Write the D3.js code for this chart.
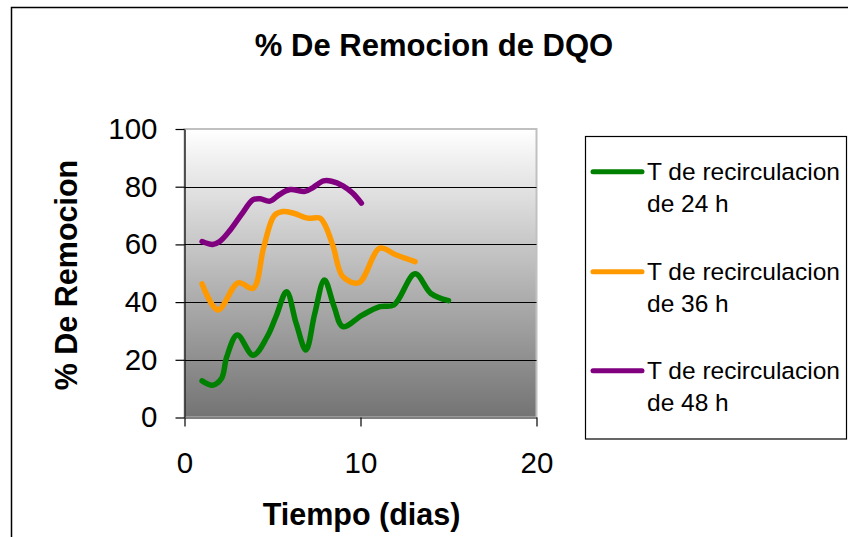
<!DOCTYPE html>
<html>
<head>
<meta charset="utf-8">
<script src="https://cdn.jsdelivr.net/npm/d3@7"></script>
<style>
  html, body { margin: 0; padding: 0; background: #fff; }
  svg { display: block; font-family: "Liberation Sans", Arial, sans-serif; }
</style>
</head>
<body>
<svg id="chart" width="848" height="537"></svg>
<script>
// Series: day of operation and % COD removal for each recirculation time
const dias24 = [1, 1.6, 2.1, 2.4, 3.0, 3.9, 4.7, 5.2, 5.8, 6.35, 6.9, 7.4, 7.95, 8.5, 9.0, 10.1, 11.1, 11.9, 13.1, 14.0, 15.0];
const remocion24 = [12.7, 11.2, 13.5, 21, 28.6, 21.6, 28, 35, 43.6, 32.5, 23.4, 36, 47.7, 38.4, 31.5, 35.5, 38.4, 39, 49.8, 43, 40.5];

const dias36 = [1, 1.9, 3.05, 3.9, 4.5, 5.1, 5.6, 6.2, 7.0, 7.7, 8.0, 8.45, 9.0, 9.9, 11.1, 12.0, 13.1];
const remocion36 = [46.3, 37.3, 46.7, 44.8, 59, 70, 71.4, 70.8, 69.1, 69.1, 66.5, 59.2, 48.8, 46.7, 58.7, 56.4, 54];

const dias48 = [1, 1.6, 2.0, 2.6, 3.25, 3.9, 4.3, 4.85, 5.4, 6.0, 6.85, 7.3, 7.9, 8.35, 9.0, 9.55, 10.05];
const remocion48 = [61, 60, 61, 65, 70.5, 75.5, 75.8, 75, 77.3, 79, 78.4, 79.7, 82, 81.9, 80.3, 77.8, 74.3];

const seriesNames = ["T de recirculacion de 24 h", "T de recirculacion de 36 h", "T de recirculacion de 48 h"];
const seriesColors = ["#008000", "#ff9900", "#800080"];

const xTicks = [0, 10, 20];
const yTicks = [0, 20, 40, 60, 80, 100];

const chartTitle = "% De Remocion de DQO";
const xTitle = "Tiempo (dias)";
const yTitle = "% De Remocion";

const series = [
  { name: seriesNames[0], color: seriesColors[0], x: dias24, y: remocion24 },
  { name: seriesNames[1], color: seriesColors[1], x: dias36, y: remocion36 },
  { name: seriesNames[2], color: seriesColors[2], x: dias48, y: remocion48 }
];

const svg = d3.select("#chart");
const plot = { left: 184.5, top: 129, right: 536.5, bottom: 417.5 };

const x = d3.scaleLinear().domain([0, 20]).range([plot.left, plot.right]);
const y = d3.scaleLinear().domain([0, 100]).range([plot.bottom, plot.top]);

// Outer chart frame
svg.append("rect")
  .attr("x", 11.5).attr("y", 7.5)
  .attr("width", 848).attr("height", 540)
  .attr("fill", "#fff").attr("stroke", "#000").attr("stroke-width", 1.5);

// Plot background: white-to-grey vertical gradient
const defs = svg.append("defs");
const grad = defs.append("linearGradient")
  .attr("id", "plotFill").attr("x1", 0).attr("y1", 0).attr("x2", 0).attr("y2", 1);
grad.append("stop").attr("offset", "0%").attr("stop-color", "#ffffff");
grad.append("stop").attr("offset", "100%").attr("stop-color", "#737373");

svg.append("rect")
  .attr("x", plot.left).attr("y", plot.top)
  .attr("width", plot.right - plot.left).attr("height", plot.bottom - plot.top)
  .attr("fill", "url(#plotFill)")
  .attr("stroke", "#c0c0c0").attr("stroke-width", 2);

// Horizontal gridlines
svg.append("g")
  .selectAll("line")
  .data(yTicks.filter(d => d > 0 && d < 100))
  .join("line")
  .attr("x1", plot.left).attr("x2", plot.right)
  .attr("y1", d => Math.round(y(d)) + 0.5).attr("y2", d => Math.round(y(d)) + 0.5)
  .attr("stroke", "#000").attr("stroke-width", 1);

// Axes
const yAxis = svg.append("g")
  .attr("transform", `translate(${plot.left},0)`)
  .call(d3.axisLeft(y).tickValues(yTicks).tickSize(9).tickPadding(18).tickSizeOuter(0));
const xAxis = svg.append("g")
  .attr("transform", `translate(0,${plot.bottom})`)
  .call(d3.axisBottom(x).tickValues(xTicks).tickSize(9).tickPadding(26).tickSizeOuter(0));

[yAxis, xAxis].forEach(g => {
  g.select(".domain").attr("stroke", "#000").attr("stroke-width", 1.2);
  g.selectAll(".tick line").attr("stroke", "#000").attr("stroke-width", 1.2);
  g.selectAll(".tick text")
    .attr("fill", "#000")
    .style("font-family", "'Liberation Sans', Arial, sans-serif")
    .style("font-size", "29.5px");
});
xAxis.select(".domain").attr("stroke", "#808080").attr("stroke-width", 2);

// Smoothed series lines
const line = d3.line()
  .x(d => x(d[0]))
  .y(d => y(d[1]))
  .curve(d3.curveCatmullRom.alpha(0.5));

svg.append("g")
  .selectAll("path")
  .data(series)
  .join("path")
  .attr("d", s => line(s.x.map((v, i) => [v, s.y[i]])))
  .attr("fill", "none")
  .attr("stroke", s => s.color)
  .attr("stroke-width", 5.5)
  .attr("stroke-linecap", "round")
  .attr("stroke-linejoin", "round");

// Titles
svg.append("text")
  .attr("x", 434).attr("y", 55.5)
  .attr("text-anchor", "middle")
  .style("font-size", "31px").style("font-weight", "bold")
  .text(chartTitle);

svg.append("text")
  .attr("x", 361.5).attr("y", 525)
  .attr("text-anchor", "middle")
  .style("font-size", "30.5px").style("font-weight", "bold")
  .text(xTitle);

svg.append("text")
  .attr("transform", "translate(77,275) rotate(-90)")
  .attr("text-anchor", "middle")
  .style("font-size", "30.5px").style("font-weight", "bold")
  .text(yTitle);

// Legend
const legend = svg.append("g");
legend.append("rect")
  .attr("x", 585.5).attr("y", 136.5)
  .attr("width", 261).attr("height", 302.5)
  .attr("fill", "#fff").attr("stroke", "#000").attr("stroke-width", 1.2);

const legendRows = [171.7, 271.7, 370.7];
series.forEach((s, i) => {
  const ly = legendRows[i];
  legend.append("line")
    .attr("x1", 593).attr("x2", 642)
    .attr("y1", ly).attr("y2", ly)
    .attr("stroke", s.color).attr("stroke-width", 5).attr("stroke-linecap", "round");
  const words = s.name.split(" ");
  const t = legend.append("text")
    .attr("x", 647).attr("y", ly + 8)
    .style("font-size", "24.5px");
  t.append("tspan").attr("x", 647).text(words.slice(0, 3).join(" "));
  t.append("tspan").attr("x", 647).attr("dy", 32).text(words.slice(3).join(" "));
});
</script>
</body>
</html>
